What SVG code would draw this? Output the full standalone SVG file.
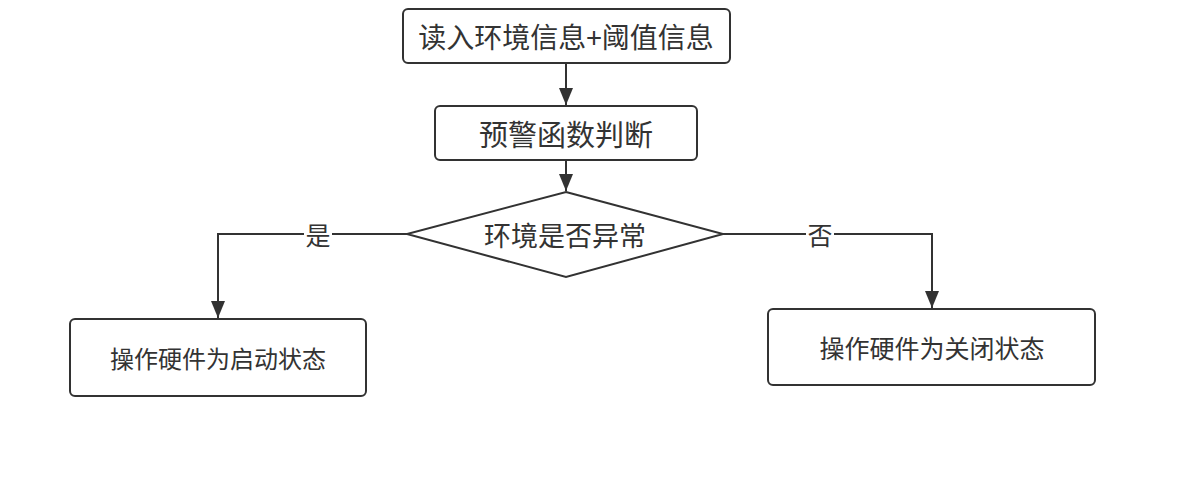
<svg xmlns="http://www.w3.org/2000/svg" width="1180" height="478" viewBox="0 0 1180 478">
<defs>
<style>
.node{fill:#ffffff;stroke:#323232;stroke-width:2}
.t{font-family:"Noto Sans CJK SC","Noto Sans",sans-serif;fill:#333333;text-anchor:middle;dominant-baseline:central}
.edge{fill:none;stroke:#323232;stroke-width:2}
.lbl{fill:#ffffff}
</style>
<marker id="arr" viewBox="0 0 17 14" refX="17" refY="7" markerWidth="17" markerHeight="14" orient="auto" markerUnits="userSpaceOnUse">
<path d="M0,0 L17,7 L0,14 Z" fill="#323232"/>
</marker>
</defs>
<rect width="1180" height="478" fill="#ffffff"/>
<g id="connectors">
<path class="edge" d="M566,63 V105" marker-end="url(#arr)"/>
<path class="edge" d="M566,160 V191" marker-end="url(#arr)"/>
<path class="edge" d="M407,234 H218 V318" marker-end="url(#arr)"/>
<path class="edge" d="M723,234 H932 V308" marker-end="url(#arr)"/>
<rect class="lbl" x="304" y="220" width="28" height="28"/>
<text class="t" x="318" y="234" font-size="25">是</text>
<rect class="lbl" x="806" y="220" width="28" height="28"/>
<text class="t" x="820" y="234" font-size="25">否</text>
</g>
<g id="n1">
<rect class="node" x="403" y="9" width="327" height="54" rx="5"/>
<text class="t" x="566" y="36" font-size="28">读入环境信息+阈值信息</text>
</g>
<g id="n2">
<rect class="node" x="435" y="106" width="262" height="54" rx="5"/>
<text class="t" x="566" y="133" font-size="29">预警函数判断</text>
</g>
<g id="n3">
<polygon class="node" points="566,192 723,234 566,277 407,234"/>
<text class="t" x="565" y="234" font-size="27">环境是否异常</text>
</g>
<g id="n4">
<rect class="node" x="70" y="319" width="296" height="77" rx="5"/>
<text class="t" x="218" y="357" font-size="24">操作硬件为启动状态</text>
</g>
<g id="n5">
<rect class="node" x="768" y="309" width="327" height="76" rx="5"/>
<text class="t" x="932" y="347" font-size="25">操作硬件为关闭状态</text>
</g>
</svg>
